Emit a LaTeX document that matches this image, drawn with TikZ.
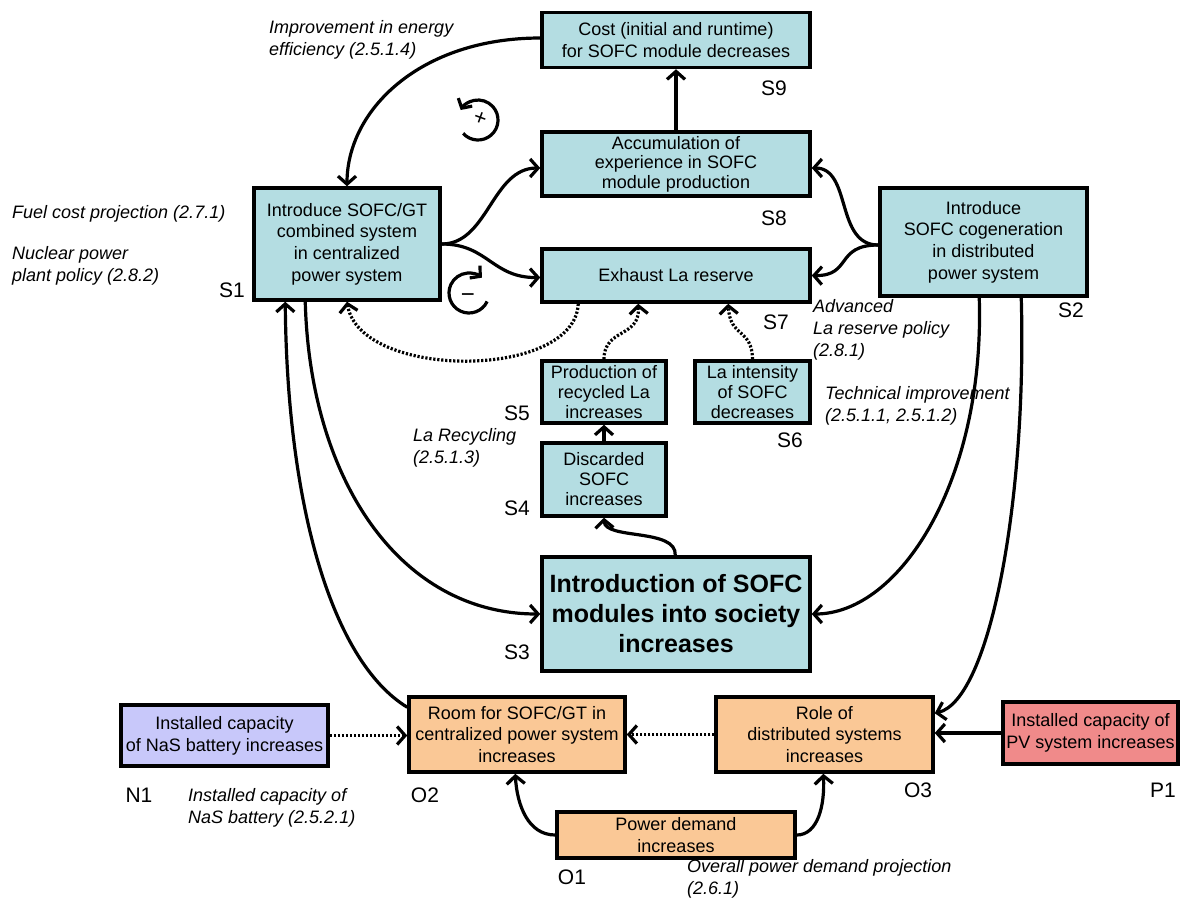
\documentclass[tikz,border=0pt]{standalone}
\usepackage{fontspec}
\setmainfont{Liberation Sans}
\usetikzlibrary{arrows.meta}
\definecolor{sfill}{RGB}{180,221,226}
\definecolor{ofill}{RGB}{250,200,150}
\definecolor{nfill}{RGB}{200,200,250}
\definecolor{pfill}{RGB}{240,138,138}
\begin{document}
\begin{tikzpicture}[x=1pt,y=-1pt,
  box/.style={draw=black, line width=3.5pt, inner sep=0pt, align=center,
    font=\fontsize{18}{21.7}\selectfont},
  sbox/.style={box, fill=sfill},
  obox/.style={box, fill=ofill},
  nbox/.style={box, fill=nfill},
  pbox/.style={box, fill=pfill},
  lab/.style={font=\fontsize{21}{24}\selectfont, inner sep=0pt},
  note/.style={font=\fontsize{18}{22}\selectfont\itshape, align=left, anchor=west, inner sep=0pt},
  conn/.style={line width=3.2pt, -{Straight Barb[length=8pt,width=18pt]}},
  dotconn/.style={conn, dash pattern=on 2.2pt off 1.8pt},
  loopc/.style={line width=3.2pt, -{Straight Barb[length=7pt,width=16pt]}}
]
\useasboundingbox (0,0) rectangle (1181,898);

% boxes
\node[sbox, minimum width=268pt, minimum height=55pt] (s9) at (676,40)
  {Cost (initial and runtime)\\for SOFC module decreases};
\node[sbox, minimum width=268pt, minimum height=64pt, font=\fontsize{18}{19.5}\selectfont] (s8) at (676,164)
  {Accumulation of\\experience in SOFC\\module production};
\node[sbox, minimum width=268pt, minimum height=53pt] (s7) at (676,275.5)
  {Exhaust La reserve};
\node[sbox, minimum width=186pt, minimum height=112pt] (s1) at (347,244)
  {Introduce SOFC/GT\\combined system\\in centralized\\power system};
\node[sbox, minimum width=207pt, minimum height=108pt] (s2) at (983.5,242)
  {Introduce\\SOFC cogeneration\\in distributed\\power system};
\node[sbox, minimum width=124pt, minimum height=62pt, font=\fontsize{18}{20}\selectfont] (s5) at (604,392)
  {Production of\\recycled La\\increases};
\node[sbox, minimum width=115pt, minimum height=62pt, font=\fontsize{18}{20}\selectfont] (s6) at (752.5,392)
  {La intensity\\of SOFC\\decreases};
\node[sbox, minimum width=124pt, minimum height=73pt, font=\fontsize{18}{20}\selectfont] (s4) at (604,479.5)
  {Discarded\\SOFC\\increases};
\node[sbox, minimum width=268pt, minimum height=114pt, font=\fontsize{25}{30}\selectfont\bfseries] (s3) at (676,614)
  {Introduction of SOFC\\modules into society\\increases};
\node[nbox, minimum width=207pt, minimum height=61pt] (n1) at (224.5,735.5)
  {Installed capacity\\of NaS battery increases};
\node[obox, minimum width=216pt, minimum height=75pt] (o2) at (517,734.5)
  {Room for SOFC/GT in\\centralized power system\\increases};
\node[obox, minimum width=217pt, minimum height=75pt] (o3) at (824.5,734.5)
  {Role of\\distributed systems\\increases};
\node[pbox, minimum width=175pt, minimum height=62pt] (p1) at (1090.5,733)
  {Installed capacity of\\PV system increases};
\node[obox, minimum width=238pt, minimum height=46pt] (o1) at (676,835)
  {Power demand\\increases};

% labels
\node[lab] (ls9) at (774,88) {S9};
\node[lab] (ls8) at (774,218) {S8};
\node[lab] (ls7) at (776,322) {S7};
\node[lab] (ls1) at (232,290) {S1};
\node[lab] (ls2) at (1071,310) {S2};
\node[lab] (ls5) at (517,413) {S5};
\node[lab] (ls6) at (790,440) {S6};
\node[lab] (ls4) at (517,508) {S4};
\node[lab] (ls3) at (517,652) {S3};
\node[lab] (ln1) at (139,795) {N1};
\node[lab] (lo2) at (425,795) {O2};
\node[lab] (lo3) at (918,790) {O3};
\node[lab] (lp1) at (1163,790) {P1};
\node[lab] (lo1) at (572,877) {O1};

% annotations
\node[note] (a1) at (269,40) {Improvement in energy\\efficiency (2.5.1.4)};
\node[note] (a2) at (12,214) {Fuel cost projection (2.7.1)};
\node[note] (a3) at (12,266) {Nuclear power\\plant policy (2.8.2)};
\node[note] (a4) at (813,330) {Advanced\\La reserve policy\\(2.8.1)};
\node[note] (a5) at (825,406) {Technical improvement\\(2.5.1.1, 2.5.1.2)};
\node[note] (a6) at (413,448) {La Recycling\\(2.5.1.3)};
\node[note] (a7) at (188,808) {Installed capacity of\\NaS battery (2.5.2.1)};
\node[note] (a8) at (687,879) {Overall power demand projection\\(2.6.1)};

% loop symbols
\draw[loopc] ([shift={(222:20pt)}]478,120) arc[start angle=222,end angle=510,radius=20pt];
\node[font=\fontsize{22}{24}\selectfont, inner sep=0pt, rotate=-20] (plus) at (480,119) {+};
\draw[loopc] ([shift={(-25:20pt)}]469,293) arc[start angle=-25,end angle=-310,radius=20pt];
\node[font=\fontsize{24}{24}\selectfont, inner sep=0pt] (minus) at (468,298) {−};

% connectors
\draw[conn] (s8.north) -- (s9.south);
\draw[conn] ([yshift=2pt]s9.west) .. controls (420,38) and (347,110) .. (s1.north);
\draw[conn] (s1.east) .. controls (488,244) and (492,168) .. ([yshift=-4pt]s8.west);
\draw[conn] (s1.east) .. controls (488,244) and (492,278) .. ([yshift=-2pt]s7.west);
\draw[conn] ([yshift=-3pt]s2.west) .. controls (835,245) and (852,168) .. ([yshift=-4pt]s8.east);
\draw[conn] ([yshift=-3pt]s2.west) .. controls (835,245) and (852,276) .. (s7.east);
\draw[dotconn] ([xshift=38pt]s7.south west) .. controls (575,380) and (360,380) .. (s1.south);
\draw[dotconn] (s5.north) .. controls (604,328) and (640,338) .. ([xshift=98pt]s7.south west);
\draw[dotconn] (s6.north) .. controls (752,328) and (730,338) .. ([xshift=188pt]s7.south west);
\draw[conn] (s4.north) -- (s5.south);
\draw[conn] ([xshift=135pt]s3.north west) .. controls (677,528) and (605,540) .. (s4.south);
\draw[conn] ([xshift=53pt]s1.south west) .. controls (310,480) and (400,614) .. (s3.west);
\draw[conn] ([yshift=-12pt]o2.north west) .. controls (330,660) and (287,500) .. ([xshift=33pt]s1.south west);
\draw[conn] ([xshift=101pt]s2.south west) .. controls (985,480) and (900,614) .. (s3.east);
\draw[conn] ([xshift=143pt]s2.south west) .. controls (1027,500) and (990,700) .. ([yshift=-18pt]o3.north east);
\draw[conn] (p1.west) -- (p1.west -| o3.east);
\draw[dotconn] (o3.west) -- (o2.east);
\draw[dotconn] (n1.east) -- (n1.east -| o2.west);
\draw[conn] (o1.west) .. controls (528,835) and (517,805) .. ([xshift=108pt]o2.south west);
\draw[conn] (o1.east) .. controls (818,835) and (825,805) .. ([xshift=109pt]o3.south west);
\end{tikzpicture}
\end{document}
